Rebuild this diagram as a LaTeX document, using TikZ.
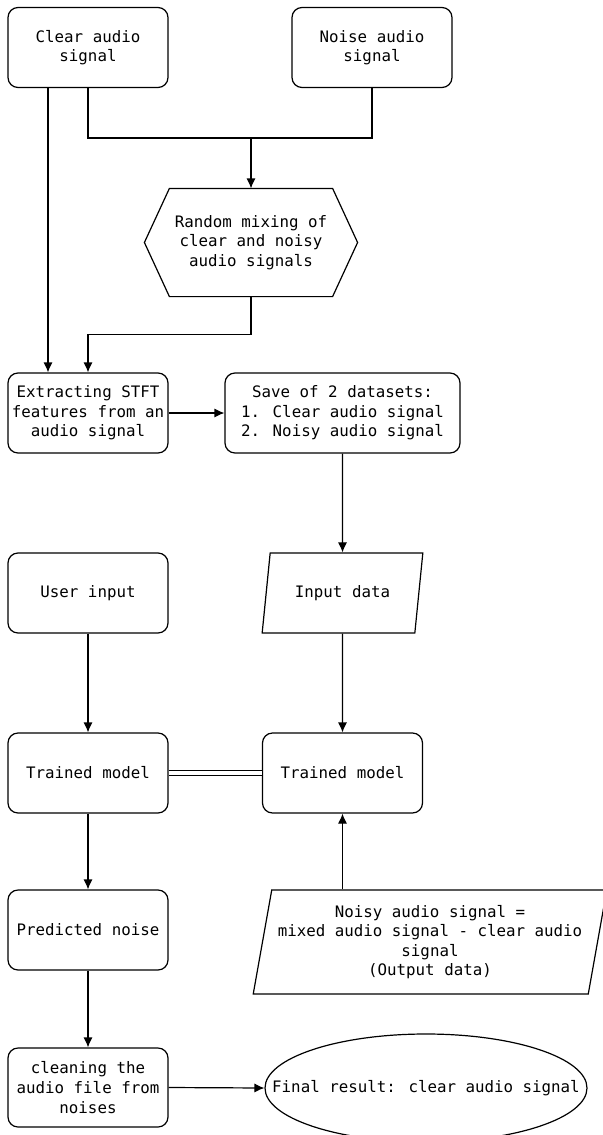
\documentclass[tikz,border=0pt]{standalone}
\usepackage{fontspec}
\setmainfont{DejaVu Sans Mono}
\usetikzlibrary{shapes.geometric, arrows.meta}
\begin{document}
\begin{tikzpicture}[>={Latex[length=5pt,width=4.6pt]}, x=0.5pt, y=-0.5pt, line width=0.6pt,
  every node/.style={font=\fontsize{7.9}{9.8}\selectfont, align=center, inner sep=0pt},
  box/.style={draw, rounded corners=5pt, minimum width=80pt, minimum height=40pt},
  data/.style 2 args={draw, trapezium, trapezium stretches=true,
    trapezium left angle=#1, trapezium right angle=#2}]
    \useasboundingbox (0,0) rectangle (603,1135);
    \clip (0,0) rectangle (603,1135);
    % first column / top part
    \node[box] (clear) at (88,47.5) {Clear audio\\signal};
    \node[box] (noise) at (372,47.5) {Noise audio\\signal};
    \node[minimum width=106pt, minimum height=53.5pt] (mix) at (251,242.5) {Random mixing of\\clear and noisy\\audio signals};
    \draw (mix.west)--([xshift=12.5pt]mix.north west)--([xshift=-12.5pt]mix.north east)
        --(mix.east)--([xshift=-12.5pt]mix.south east)--([xshift=12.5pt]mix.south west)--cycle;
    \node[box] (stft) at (88,413) {Extracting STFT\\features from an\\audio signal};
    \node[box, minimum width=117.5pt] (save) at (342.5,413) {Save of 2 datasets:\\1. Clear audio signal\\2. Noisy audio signal};
    \node[box] (user) at (88,593) {User input};
    \node[data={71}{109}, minimum width=80.5pt, minimum height=40pt] (input) at (342.5,593) {Input data};
    \node[box] (modelL) at (88,773) {Trained model};
    \node[box] (modelR) at (342.5,773) {Trained model};
    \node[box] (pred) at (88,930) {Predicted noise};
    \node[data={76.5}{103.5}, minimum width=177pt, minimum height=52pt] (noisy) at (430,942) {Noisy audio signal =\\mixed audio signal - clear audio\\signal\\(Output data)};
    \node[box, minimum height=39.5pt] (clean) at (88,1087.5) {cleaning the\\audio file from\\noises};
    \node[draw, ellipse, minimum width=161pt, minimum height=54pt] (result) at (426,1088) {};
    \node (resulttxt) at (result.center) {Final result: clear audio signal};
    % connectors
    \coordinate (join) at (251,138);
    \draw (clear.south) |- (join) -| (noise.south);
    \draw[->] (join)--(mix.north);
    \draw[->] ([xshift=-20pt]clear.south)--([xshift=-20pt]stft.north);
    \draw[->] (mix.south)--++(0,38)-|(stft.north);
    \draw[->] (stft.east)--(save.west);
    \draw[->] (save.south)--(input.north);
    \draw[->] (user.south)--(modelL.north);
    \draw[->] (input.south)--(modelR.north);
    \draw[double, double distance=1.6pt, line width=0.5pt] (modelL.east)--(modelR.west);
    \draw[->] (modelL.south)--(pred.north);
    \draw[->] (modelR.south |- noisy.north)--(modelR.south);
    \draw[->] (pred.south)--(clean.north);
    \draw[->] (clean.east)--(result.west);
\end{tikzpicture}
\end{document}
